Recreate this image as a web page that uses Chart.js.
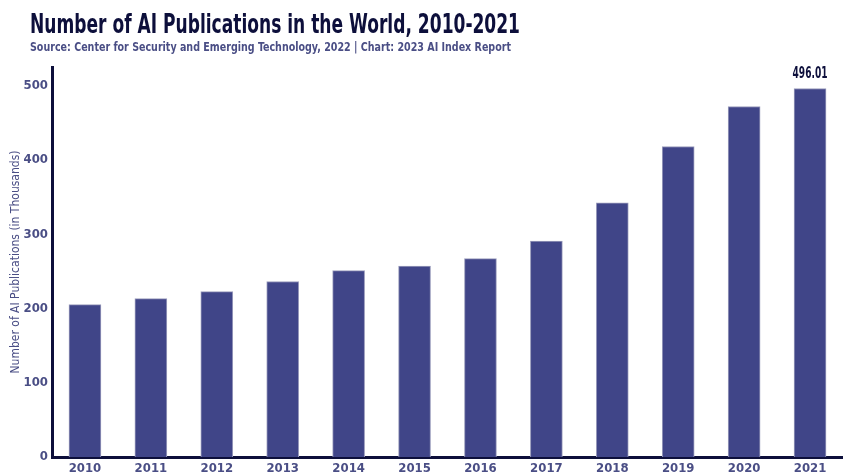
<!DOCTYPE html>
<html>
<head>
<meta charset="utf-8">
<script src="https://cdn.jsdelivr.net/npm/chart.js@4/dist/chart.umd.min.js"></script>
<style>
  html, body { margin: 0; padding: 0; background: #fff; }
  #wrap { position: relative; width: 843px; height: 476px; }
</style>
</head>
<body>
<div id="wrap"><canvas id="pubs"></canvas></div>
<script>
const years = ['2010','2011','2012','2013','2014','2015','2016','2017','2018','2019','2020','2021'];
const publications = [205.2, 213.3, 222.7, 236.2, 250.9, 257.1, 267.1, 290.7, 342.3, 418.0, 471.8, 496.01];
const yTicks = [0, 100, 200, 300, 400, 500];

const titleText = 'Number of AI Publications in the World, 2010-2021';
const subtitleText = 'Source: Center for Security and Emerging Technology, 2022 | Chart: 2023 AI Index Report';

const FONT = '"Liberation Sans Narrow", "DejaVu Sans Condensed", "Roboto", sans-serif';
const navy = '#0d0f3b';
const muted = '#4a4e85';
const barColor = '#404588';

// narrow header text, squeezed to the width the report uses
function squeezedText(ctx, text, x, y, width) {
  const w = ctx.measureText(text).width;
  ctx.save();
  ctx.translate(x, y);
  ctx.scale(Math.min(1, width / w), 1);
  ctx.fillText(text, 0, 0);
  ctx.restore();
}

const header = {
  id: 'header',
  afterDraw(chart) {
    const ctx = chart.ctx;
    ctx.save();
    ctx.textAlign = 'left';
    ctx.textBaseline = 'alphabetic';
    ctx.fillStyle = navy;
    ctx.font = 'bold 27px ' + FONT;
    squeezedText(ctx, titleText, 30, 33, 490);
    ctx.fillStyle = muted;
    ctx.font = 'bold 13px ' + FONT;
    squeezedText(ctx, subtitleText, 30, 51, 481);
    ctx.restore();
  }
};

// label only the last bar
const lastLabel = {
  id: 'lastLabel',
  afterDatasetsDraw(chart) {
    const meta = chart.getDatasetMeta(0);
    const i = publications.length - 1;
    const bar = meta.data[i];
    const ctx = chart.ctx;
    ctx.save();
    ctx.font = 'bold 16px ' + FONT;
    ctx.fillStyle = navy;
    ctx.textAlign = 'center';
    ctx.textBaseline = 'bottom';
    const txt = publications[i].toFixed(2);
    const w = ctx.measureText(txt).width;
    ctx.translate(bar.x, bar.y - 7);
    ctx.scale(Math.min(1, 35 / w), 1);
    ctx.fillText(txt, 0, 0);
    ctx.restore();
  }
};

const data = {
  labels: years,
  datasets: [{
    data: publications,
    backgroundColor: barColor,
    borderColor: '#9a9cbc',
    borderWidth: 1,
    barThickness: 32
  }]
};

const config = {
  type: 'bar',
  data: data,
  options: {
    responsive: true,
    maintainAspectRatio: false,
    animation: false,
    layout: { padding: { top: 67, left: 0, right: 0, bottom: 0 } },
    plugins: {
      legend: { display: false },
      tooltip: { enabled: false },
      title: { display: false }
    },
    scales: {
      x: {
        afterFit(scale) { scale.height = 19; },
        grid: { display: false, drawTicks: false },
        border: { color: navy, width: 3 },
        ticks: { color: muted, font: { family: FONT, size: 13, weight: 'bold' }, padding: 4 }
      },
      y: {
        min: 0,
        max: 525,
        afterBuildTicks(scale) {
          scale.ticks = yTicks.map(v => ({ value: v }));
        },
        afterFit(scale) { scale.width = 52; },
        grid: { display: false, drawTicks: false },
        border: { color: navy, width: 3 },
        ticks: { color: muted, font: { family: FONT, size: 13, weight: 'bold' }, padding: 4 },
        title: {
          display: true,
          text: 'Number of AI Publications (in Thousands)',
          color: muted,
          font: { family: FONT, size: 12 },
          padding: { top: 9, bottom: 0 }
        }
      }
    }
  },
  plugins: [header, lastLabel]
};

const myChart = new Chart(document.getElementById('pubs'), config);
</script>
</body>
</html>
